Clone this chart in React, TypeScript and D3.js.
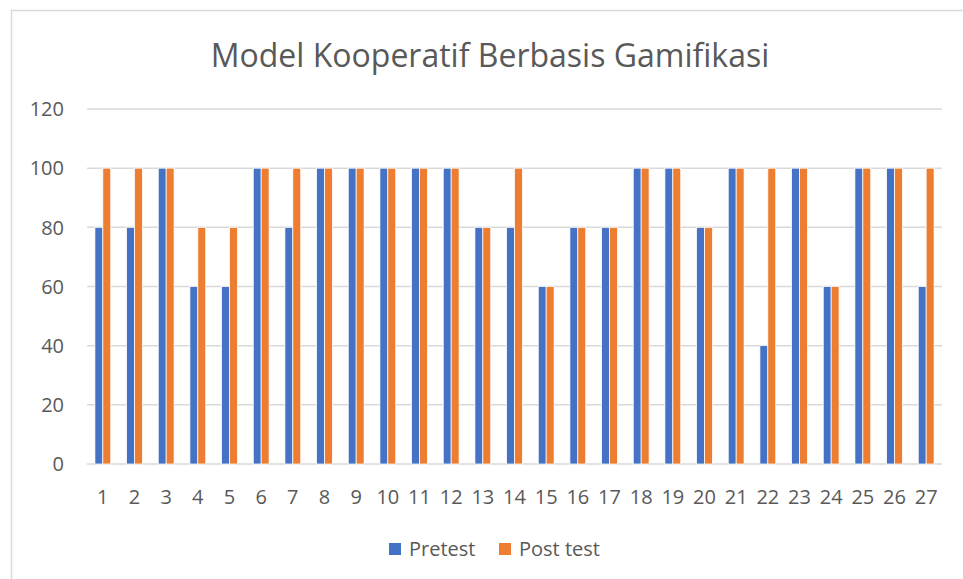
import React from 'react';
import * as d3 from 'd3';

const categories = Array.from({ length: 27 }, (_, i) => String(i + 1));
const pretest = [80, 80, 100, 60, 60, 100, 80, 100, 100, 100, 100, 100, 80, 80, 60, 80, 80, 100, 100, 80, 100, 40, 100, 60, 100, 100, 60];
const posttest = [100, 100, 100, 80, 80, 100, 100, 100, 100, 100, 100, 100, 80, 100, 60, 80, 80, 100, 100, 80, 100, 100, 100, 60, 100, 100, 100];
const yTicks = [0, 20, 40, 60, 80, 100, 120];
const seriesNames = ['Pretest', 'Post test'];
const colors = ['#4472C4', '#ED7D31'];

const W = 963;
const H = 579;
const font = '"Open Sans", "Noto Sans", sans-serif';
const textColor = '#595959';

export default function App() {
  const left = 87, right = 942, top = 109, bottom = 464;

  const x = d3.scaleBand().domain(categories).range([left, right]).paddingInner(0.5).paddingOuter(0.25);
  const x1 = d3.scaleBand().domain(seriesNames).range([0, x.bandwidth()]).padding(0);
  const y = d3.scaleLinear().domain([0, 120]).range([bottom, top]);

  const series = [pretest, posttest];

  return (
    <svg width={W} height={H} style={{ position: 'absolute', left: 0, top: 0, background: '#fff' }}>
      <rect x={0} y={0} width={W} height={H} fill="#fff" />
      {/* chart border (cropped on the right and bottom) */}
      <path d={`M11.5,${H} L11.5,10.5 L${W},10.5`} fill="none" stroke="#d9d9d9" strokeWidth={1.5} />

      <text x={490} y={67} textAnchor="middle" fontFamily={font} fontSize={32} fill={textColor}>
        Model Kooperatif Berbasis Gamifikasi
      </text>

      {yTicks.map(t => (
        <g key={t}>
          <line x1={left} x2={right} y1={y(t)} y2={y(t)} stroke="#d9d9d9" strokeWidth={1.5} />
          <text x={64} y={y(t)} dy="0.36em" textAnchor="end" fontFamily={font} fontSize={20} fill={textColor}>{t}</text>
        </g>
      ))}

      {categories.map((c, i) => (
        <g key={c}>
          {series.map((s, k) => (
            <rect
              key={k}
              x={(x(c) as number) + (x1(seriesNames[k]) as number)}
              y={y(s[i])}
              width={x1.bandwidth()}
              height={bottom - y(s[i])}
              fill={colors[k]}
              stroke="#fff"
              strokeWidth={0.75}
            />
          ))}
          <text x={(x(c) as number) + x.bandwidth() / 2} y={497} dy="0.36em" textAnchor="middle" fontFamily={font} fontSize={20} fill={textColor}>{c}</text>
        </g>
      ))}

      {seriesNames.map((n, k) => {
        const lx = k === 0 ? 389 : 499;
        return (
          <g key={n}>
            <rect x={lx} y={543} width={12} height={12} fill={colors[k]} />
            <text x={lx + 20} y={549} dy="0.36em" fontFamily={font} fontSize={20} fill={textColor}>{n}</text>
          </g>
        );
      })}
    </svg>
  );
}
